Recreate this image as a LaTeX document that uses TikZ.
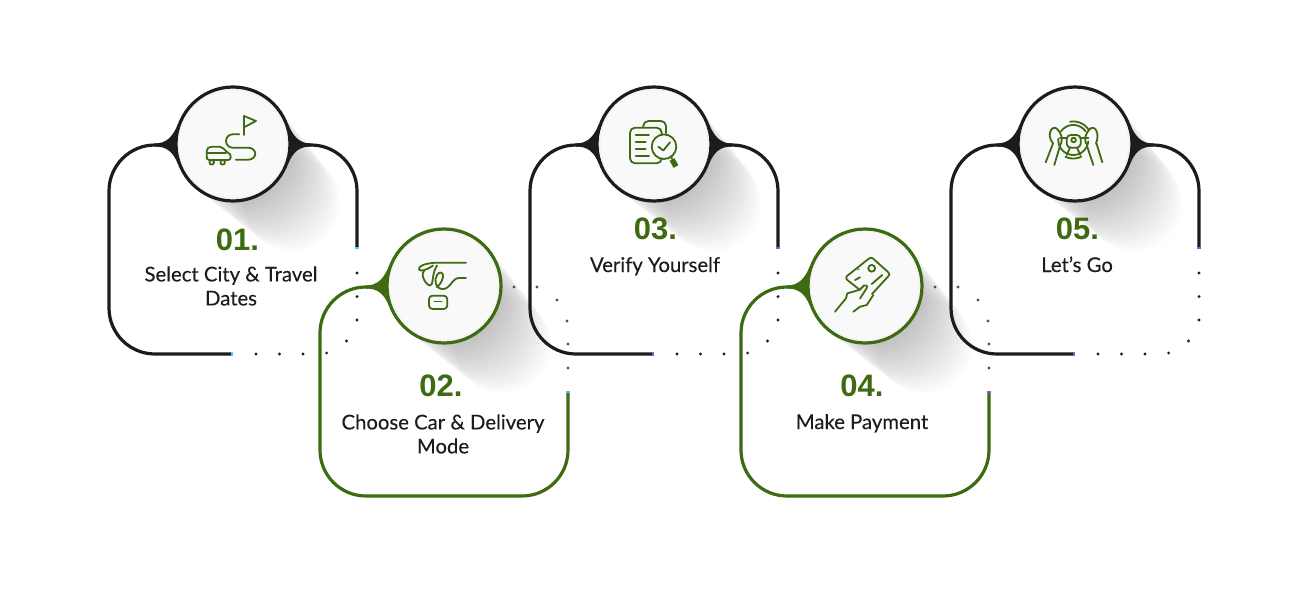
\documentclass[tikz,border=0pt]{standalone}
\usepackage{fontspec}
\setmainfont{Lato}
\newfontfamily\numfont{Liberation Sans}[Scale=1]
\definecolor{leaf}{HTML}{3E6B12}
\definecolor{ink}{HTML}{1C1C1C}
\definecolor{discfill}{HTML}{F9F9F9}
\definecolor{tipcyan}{HTML}{55C4EE}
\definecolor{tippurple}{HTML}{8A5AC8}
\tikzset{
  rail/.style={line width=3.2pt,line cap=butt,rounded corners=46pt},
  discnode/.style={circle,inner sep=0pt,minimum size=114pt,line width=3.2pt,fill=discfill},
  numtext/.style={text=leaf,font=\numfont\bfseries\fontsize{31}{31}\selectfont,inner sep=0pt},
  captext/.style={text=ink,font=\fontsize{20.3}{24}\selectfont\addfontfeature{FakeBold=0.15},align=center,inner sep=0pt},
  icon/.style={draw=leaf,line width=1.8pt,line cap=round,line join=round},
}
% shadow behind a disc
\newcommand\softshadow[2]{%
  \foreach \t in {2,4,...,60}{%
    \fill[black,opacity=0.0075] (#1+\t,#2+\t) circle[radius=58-0.17*\t];
  }}
% webs joining a card to its disc
\newcommand\webleft[1]{%
  \fill[#1] (-78,2.5) .. controls (-66,2.5) and (-60,8) .. (-55,20) -- (-40,0) -- (-55,-20)
     .. controls (-60,-8) and (-66,-0.5) .. (-78,-0.5) -- cycle;}
\newcommand\webright[1]{%
  \fill[#1] (78,2.5) .. controls (66,2.5) and (60,8) .. (55,20) -- (40,0) -- (55,-20)
     .. controls (60,-8) and (66,-0.5) .. (78,-0.5) -- cycle;}
% upper card
\newcommand\uppercard[4]{%
  \begin{scope}[shift={(#1,#2)}]
    \webleft{ink}\webright{ink}
    \draw[rail,ink] (-1,210) -- (-124,210) -- (-124,1) -- (-60,1);
    \draw[rail,ink] (124,104) -- (124,1) -- (60,1);
    \fill[#3] (122.4,103) rectangle (125.6,105);
    \fill[#3] (-2,208.4) rectangle (0,211.6);
    \foreach \p/\q in {23/210,46.5/210,70/210,93.6/209,113.5/197,124/176,124/152.6,124/129}
      \fill[ink] (\p,\q) circle[radius=1.6];
  \end{scope}
  \node[discnode,draw=ink] (#4) at (#1,#2) {};
  \node[circle,inner sep=0pt,minimum size=110pt,fill=discfill!96!black,opacity=.6] at (#1,#2) {};
  \node[circle,inner sep=0pt,minimum size=107pt,fill=discfill] at (#1,#2) {};
}
% lower card
\newcommand\lowercard[4]{%
  \begin{scope}[shift={(#1,#2)}]
    \webleft{leaf}
    \draw[rail,leaf] (124,106) -- (124,210) -- (-124,210) -- (-124,1) -- (-60,1);
    \fill[#3] (122.4,105) rectangle (125.6,107);
    \foreach \p/\q in {70/1,93/1,113/14,123/35,124/58,124/82}
      \fill[leaf] (\p,\q) circle[radius=1.6];
  \end{scope}
  \node[discnode,draw=leaf] (#4) at (#1,#2) {};
  \node[circle,inner sep=0pt,minimum size=110pt,fill=discfill!96!black,opacity=.6] at (#1,#2) {};
  \node[circle,inner sep=0pt,minimum size=107pt,fill=discfill] at (#1,#2) {};
}
\newcommand\wheelarc[3]{%
  \draw[icon] plot[domain=#2:#3,samples=24,smooth] ({1073.3+#1*cos(\x)},{140-#1*sin(\x)});}
\begin{document}
\begin{tikzpicture}[x=1pt,y=-1pt]
\useasboundingbox (0,0) rectangle (1308,602);
\fill[white] (0,0) rectangle (1308,602);

\softshadow{233}{144}
\softshadow{654}{144}
\softshadow{1075}{144}
\softshadow{444}{286}
\softshadow{865}{286}

\uppercard{233}{144}{tipcyan}{c1}
\uppercard{654}{144}{tippurple}{c3}
\uppercard{1075}{144}{tippurple}{c5}
\lowercard{444}{286}{tipcyan}{c2}
\lowercard{865}{286}{tippurple}{c4}

% icon 1: car and route
\draw[icon] (244,135) -- (244,116) -- (256,121) -- (244.5,127);
\draw[icon] (239.3,134.3) -- (232.7,134.3) .. controls (229,134.3) and (226,137.3) .. (226,141)
   .. controls (226,144.7) and (229,147.7) .. (232.7,147.7)
   -- (248.3,147.7) .. controls (252,147.7) and (255.3,150.4) .. (255.3,153.7)
   .. controls (255.3,157) and (252,159.7) .. (248.3,159.7) -- (235.7,159.7);
\draw[icon] (209,160) .. controls (207,160) and (206.7,158) .. (206.7,156) -- (206.7,151)
   .. controls (206.7,148) and (209,146.7) .. (212,146.7) -- (220,146.7)
   .. controls (223,146.7) and (224,150) .. (227,152) .. controls (230,153) and (230.7,155) .. (230.7,157)
   .. controls (230.7,159) and (230,160) .. (228,160) -- cycle;
\draw[icon] (207,153.3) -- (226,153.3);
\draw[icon] (211.7,162.3) circle[radius=2.3];
\draw[icon] (222.7,162.3) circle[radius=2.3];

% icon 2: hand and fob
\draw[icon] (466,262.7) -- (435,262.7) .. controls (425,263.5) and (418,266) .. (419,269.5)
   .. controls (420,272) and (427,270) .. (433,265.5);
\draw[icon] (424,271) .. controls (420,275) and (426,285) .. (430,285.5)
   .. controls (434,285.5) and (431,275) .. (437,265.5);
\draw[icon] (466,278) -- (459,278) .. controls (452,278) and (450,290) .. (442,289)
   .. controls (435,288) and (434,280) .. (437,275) .. controls (439,271) and (444,272) .. (443,277)
   .. controls (442,282) and (439,286) .. (436.5,287);
\draw[icon,rounded corners=3.5pt] (429,295.7) rectangle (447.3,309);
\draw[icon] (434.3,301.5) -- (441.7,301.5);

% icon 3: documents and magnifier
\draw[icon,rounded corners=5pt] (643.3,127) -- (643.3,121) -- (666,121) -- (666,133.3);
\draw[icon,rounded corners=5pt] (630,127.7) rectangle (661.7,163.3);
\foreach \ya/\xb in {135/649,141.7/645.7,149/645.7,156/649}
  \draw[icon] (635.7,\ya) -- (\xb,\ya);
\draw[icon,fill=discfill] (664,146.7) circle[radius=12.3];
\draw[icon] (658.3,146.7) -- (663.3,150.5) -- (670,142.3);
\draw[icon] (671,156) -- (672,159);
\draw[leaf,line width=5.5pt] (672,159.5) -- (676,166.5);

% icon 4: card and hand
\draw[icon] (860,290) -- (846.7,279.5) .. controls (846,278) and (846,277) .. (847,276)
   -- (869,258.5) .. controls (870.5,257.5) and (872,257.5) .. (873,258.5) -- (888.5,272.5)
   .. controls (889.5,273.5) and (889.5,275) .. (888.5,276) -- (872,294);
\draw[icon] (871.7,268.3) circle[radius=3.4];
\draw[icon] (858.3,269.5) -- (858.6,269.3);
\draw[icon] (855,280) -- (860,277.3);
\draw[icon] (871.7,284) -- (882.3,275);
\draw[icon] (835,311.7) -- (846,298.3) -- (847.3,293.3) -- (853.3,291.7) -- (860,289.5) -- (864,285.5)
   .. controls (866,284) and (868,286) .. (866.5,288.5) -- (860,298.5);
\draw[icon] (853.3,311.7) -- (860,306.7) -- (866.7,305) -- (873.3,295);

% icon 5: steering wheel and hands
\wheelarc{18.5}{35}{100}
\wheelarc{18.5}{-115}{-65}
\wheelarc{15}{-185}{-5}
\wheelarc{15}{35}{145}
\draw[icon,rounded corners=4pt] (1066.7,135) rectangle (1080.7,147.7);
\draw[icon] (1073.6,140) circle[radius=2.3];
\draw[icon] (1060,137.7) -- (1066.7,137.7);
\draw[icon] (1080.7,137.7) -- (1088.3,137.7);
\draw[icon] (1070,147.7) -- (1066.7,155);
\draw[icon] (1077,147.7) -- (1080.3,155);
\draw[icon] (1061,143.5) .. controls (1063,139) and (1061,133) .. (1058,130)
   .. controls (1056,127) and (1053,127) .. (1051,130) .. controls (1049,134) and (1049,138) .. (1053,143.5);
\draw[icon] (1086,143.5) .. controls (1084,139) and (1086,133) .. (1089,130)
   .. controls (1091,127) and (1094,127) .. (1096,130) .. controls (1098,134) and (1098,138) .. (1096,143.5);
\draw[icon] (1053,143.5) -- (1045.7,162.3);
\draw[icon] (1060.7,143.5) -- (1054.3,165);
\draw[icon] (1086.7,145) -- (1093.3,165);
\draw[icon] (1096.5,143.5) -- (1102.3,162.3);

% labels
\node[numtext] (n1) at (237.5,240) {01.};
\node[captext] (t1) at (231,286) {Select City \& Travel\\Dates};
\node[numtext] (n2) at (441,386) {02.};
\node[captext] (t2) at (443,434) {Choose Car \& Delivery\\Mode};
\node[numtext] (n3) at (655.5,229) {03.};
\node[captext,anchor=base] (t3) at (655,272) {Verify Yourself};
\node[numtext] (n4) at (862,386) {04.};
\node[captext,anchor=base] (t4) at (862,429) {Make Payment};
\node[numtext] (n5) at (1077.5,229) {05.};
\node[captext,anchor=base] (t5) at (1077,272) {Let’s Go};
\end{tikzpicture}
\end{document}
